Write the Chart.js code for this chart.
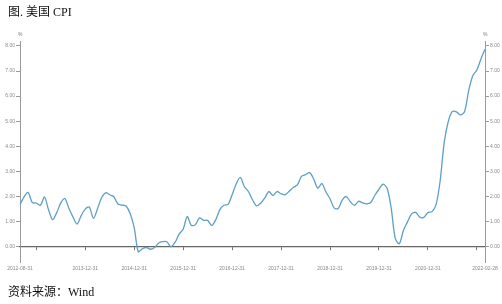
<!DOCTYPE html>
<html><head><meta charset="utf-8">
<script src="https://cdn.jsdelivr.net/npm/chart.js@4/dist/chart.umd.min.js"></script>
<style>
html,body{margin:0;padding:0;background:#fff;width:502px;height:304px;overflow:hidden;position:relative}
#c{position:absolute;left:0;top:0}
.t{position:absolute;font-family:"Liberation Serif","Noto Sans CJK SC",serif;color:#111;white-space:nowrap;line-height:1}
.u{position:absolute;font-family:"Liberation Sans",Arial,sans-serif;font-size:5px;color:#777;line-height:1}
</style></head><body>
<canvas id="c" width="502" height="304"></canvas>
<div class="t" style="left:8px;top:6px;font-size:12px">图. 美国 CPI</div>
<div class="t" style="left:8px;top:286px;font-size:12px">资料来源：Wind</div>
<div class="u" style="left:18px;top:32px">%</div>
<div class="u" style="left:483px;top:32px">%</div>
<script>
// ---- data ----
const startYear = 2012, startMonth = 8, monthCount = 115; // 2012-08 .. 2022-02 (month-end dates)
const tickLabels = ['2012-08-31','2013-12-31','2014-12-31','2015-12-31','2016-12-31','2017-12-31','2018-12-31','2019-12-31','2020-12-31','2022-02-28'];
const tickMarkDates = ['2012-12-31','2013-12-31','2014-12-31','2015-12-31','2016-12-31','2017-12-31','2018-12-31','2019-12-31','2020-12-31','2021-12-31'];
const yTickValues = [0,1,2,3,4,5,6,7,8];
const cpi2012 = [1.69,1.99,2.16,1.76,1.74];
const cpi2013 = [1.65,1.98,1.47,1.08,1.36,1.75,1.92,1.52,1.18,0.90,1.24,1.50];
const cpi2014 = [1.58,1.13,1.51,1.95,2.15,2.07,1.99,1.70,1.66,1.62,1.32,0.76];
const cpi2015 = [-0.20,-0.08,-0.03,-0.10,-0.03,0.15,0.20,0.20,0.00,0.17,0.50,0.70];
const cpi2016 = [1.20,0.85,0.88,1.15,1.05,1.05,0.85,1.08,1.48,1.65,1.69,2.07];
const cpi2017 = [2.50,2.76,2.40,2.20,1.87,1.63,1.73,1.94,2.20,2.04,2.20,2.11];
const cpi2018 = [2.07,2.21,2.36,2.46,2.80,2.87,2.95,2.70,2.33,2.52,2.18,1.91];
const cpi2019 = [1.55,1.52,1.86,2.00,1.79,1.65,1.81,1.75,1.71,1.76,2.05,2.29];
const cpi2020 = [2.49,2.33,1.54,0.33,0.12,0.65,0.99,1.31,1.37,1.18,1.17,1.36];
const cpi2021 = [1.40,1.68,2.62,4.16,4.99,5.39,5.37,5.25,5.39,6.22,6.81,7.04];
const cpi2022 = [7.48,7.87];

const categories = [];
for (let i = 0; i < monthCount; i++) {
  const y = startYear + Math.floor((startMonth - 1 + i) / 12);
  const m = (startMonth - 1 + i) % 12 + 1;
  const d = new Date(y, m, 0).getDate();
  categories.push(y + '-' + String(m).padStart(2,'0') + '-' + String(d).padStart(2,'0'));
}
const cpiValues = [].concat(cpi2012,cpi2013,cpi2014,cpi2015,cpi2016,cpi2017,cpi2018,cpi2019,cpi2020,cpi2021,cpi2022);

const tickFont = {family:'"Liberation Sans", Arial, sans-serif', size:5};
const yAxis = (pos, w) => ({
  position: pos, min: -0.62, max: 8.18,
  afterFit(s){ s.width = w; s.paddingTop = 0; s.paddingBottom = 0; },
  afterBuildTicks(s){ s.ticks = yTickValues.map(v => ({value:v})); },
  border: {display:true, color:'#9a9a9a', width:1},
  grid: {drawOnChartArea:false, drawTicks:true, tickLength:4, color:'#9a9a9a', lineWidth:1},
  ticks: {padding:1, color:'#888', font:tickFont, callback: v => Number(v).toFixed(2)}
});

new Chart(document.getElementById('c'), {
  type: 'line',
  data: {
    labels: categories,
    datasets: [{
      data: cpiValues,
      borderColor: '#5e9fc8',
      borderWidth: 1.3,
      pointRadius: 0,
      tension: 0.3,
      fill: false,
      yAxisID: 'y'
    }]
  },
  options: {
    responsive: false,
    animation: false,
    events: [],
    layout: {padding: {top: 41.4, left: 0, right: 0, bottom: 41.7}},
    plugins: {legend: {display:false}, tooltip: {enabled:false}, title:{display:false}},
    scales: {
      x: {
        type: 'category',
        position: {y: 0},
        offset: false,
        afterFit(s){ s.height = 0; s.paddingLeft = 0; s.paddingRight = 0; },
        border: {display:true, color:'#666', width:1.2},
        grid: {drawOnChartArea:false, drawTicks:true, tickLength:3, lineWidth:1,
               color: ctx => tickMarkDates.includes(categories[ctx.index]) ? '#777' : 'rgba(0,0,0,0)'},
        ticks: {autoSkip:false, maxRotation:0, minRotation:0, padding:16, color:'#888', font:tickFont,
                callback: (v, i) => tickLabels.includes(categories[i]) ? categories[i] : ''}
      },
      y: yAxis('left', 20),
      y2: yAxis('right', 17)
    }
  }
});
</script>
</body></html>
